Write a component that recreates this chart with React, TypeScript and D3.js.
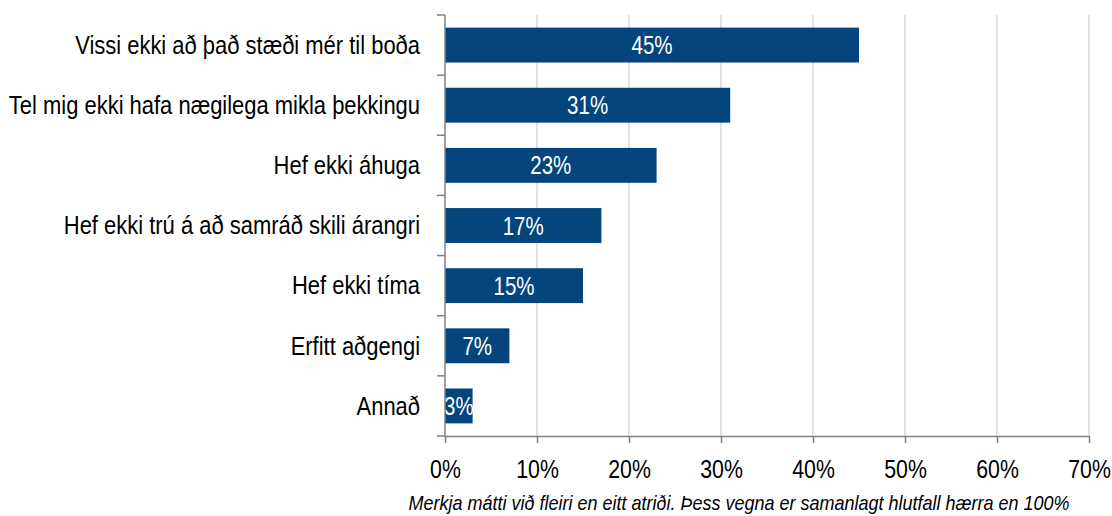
import React, { useEffect, useRef } from 'react';
import * as d3 from 'd3';

// Categories (top to bottom) and their shares in percent
const categories = [
  'Vissi ekki að það stæði mér til boða',
  'Tel mig ekki hafa nægilega mikla þekkingu',
  'Hef ekki áhuga',
  'Hef ekki trú á að samráð skili árangri',
  'Hef ekki tíma',
  'Erfitt aðgengi',
  'Annað',
];
const values = [45, 31, 23, 17, 15, 7, 3];
const xTicks = [0, 10, 20, 30, 40, 50, 60, 70];
const footnote = 'Merkja mátti við fleiri en eitt atriði. Þess vegna er samanlagt hlutfall hærra en 100%';

const W = 1112;
const H = 516;
const FONT = '"Liberation Sans", Arial, sans-serif';
// no narrow font installed, so squeeze the regular one
const SQ = 0.82;
const SQ_LABEL = 0.845;

function App() {
  const svgRef = useRef<SVGSVGElement>(null);

  useEffect(() => {
    const margin = { top: 15, right: 23, bottom: 80, left: 445 };
    const width = W - margin.left - margin.right;
    const height = H - margin.top - margin.bottom;

    const svg = d3.select(svgRef.current);
    svg.selectAll('*').remove();

    const g = svg.append('g')
      .attr('transform', `translate(${margin.left},${margin.top})`);

    const x = d3.scaleLinear().domain([0, 70]).range([0, width]);
    const y = d3.scaleBand().domain(categories).range([0, height]).paddingInner(0.42).paddingOuter(0.21);

    // vertical gridlines
    g.selectAll('line.grid')
      .data(xTicks.slice(1))
      .enter().append('line')
      .attr('class', 'grid')
      .attr('x1', d => x(d)).attr('x2', d => x(d))
      .attr('y1', 0).attr('y2', height)
      .attr('stroke', '#d9d9d9')
      .attr('stroke-width', 1.5);

    // bars
    g.selectAll('rect.bar')
      .data(values)
      .enter().append('rect')
      .attr('class', 'bar')
      .attr('x', 0)
      .attr('y', (d, i) => y(categories[i]))
      .attr('width', d => x(d))
      .attr('height', y.bandwidth())
      .attr('fill', '#03457c');

    // value labels
    g.selectAll('text.val')
      .data(values)
      .enter().append('text')
      .attr('class', 'val')
      .attr('transform', (d, i) => `translate(${x(d) / 2},${y(categories[i]) + y.bandwidth() / 2}) scale(${SQ},1)`)
      .attr('dy', '0.36em')
      .attr('text-anchor', 'middle')
      .style('fill', '#fff')
      .style('font-family', FONT)
      .style('font-size', '25px')
      .text(d => `${d}%`);

    // y axis labels
    const yAxis = g.append('g')
      .call(d3.axisLeft(y).tickSize(0).tickPadding(0));
    yAxis.select('.domain').remove();
    yAxis.selectAll('text')
      .attr('x', -25 / SQ_LABEL)
      .attr('dy', '0.34em')
      .attr('transform', `scale(${SQ_LABEL},1)`)
      .style('font-family', FONT)
      .style('font-size', '26px')
      .style('fill', '#000');

    // y axis line and band ticks
    const edges = d3.range(categories.length + 1).map(i => i * height / categories.length);
    g.append('line')
      .attr('x1', 0).attr('x2', 0).attr('y1', 0).attr('y2', height)
      .attr('stroke', '#808080').attr('stroke-width', 1.5);
    g.selectAll('line.ytick')
      .data(edges)
      .enter().append('line')
      .attr('class', 'ytick')
      .attr('x1', -8).attr('x2', 0)
      .attr('y1', d => d).attr('y2', d => d)
      .attr('stroke', '#808080').attr('stroke-width', 1.5);

    // x axis
    const xAxis = g.append('g')
      .attr('transform', `translate(0,${height})`)
      .call(d3.axisBottom(x).tickValues(xTicks).tickFormat(d => `${d}%`).tickSize(7).tickSizeOuter(0).tickPadding(17));
    xAxis.select('.domain').attr('stroke', '#808080').attr('stroke-width', 1.5);
    xAxis.selectAll('line').attr('stroke', '#808080').attr('stroke-width', 1.5);
    xAxis.selectAll('text')
      .attr('x', 0)
      .attr('transform', `scale(${SQ},1)`)
      .style('font-family', FONT)
      .style('font-size', '26px')
      .style('fill', '#000');

    // footnote
    svg.append('text')
      .attr('transform', `translate(739,510) scale(0.9,1)`)
      .attr('text-anchor', 'middle')
      .style('font-family', FONT)
      .style('font-style', 'italic')
      .style('font-size', '20px')
      .style('fill', '#000')
      .text(footnote);
  }, []);

  return (
    <svg
      ref={svgRef}
      width={W}
      height={H}
      style={{ position: 'absolute', left: 0, top: 0, background: '#fff' }}
    />
  );
}

export default App;
